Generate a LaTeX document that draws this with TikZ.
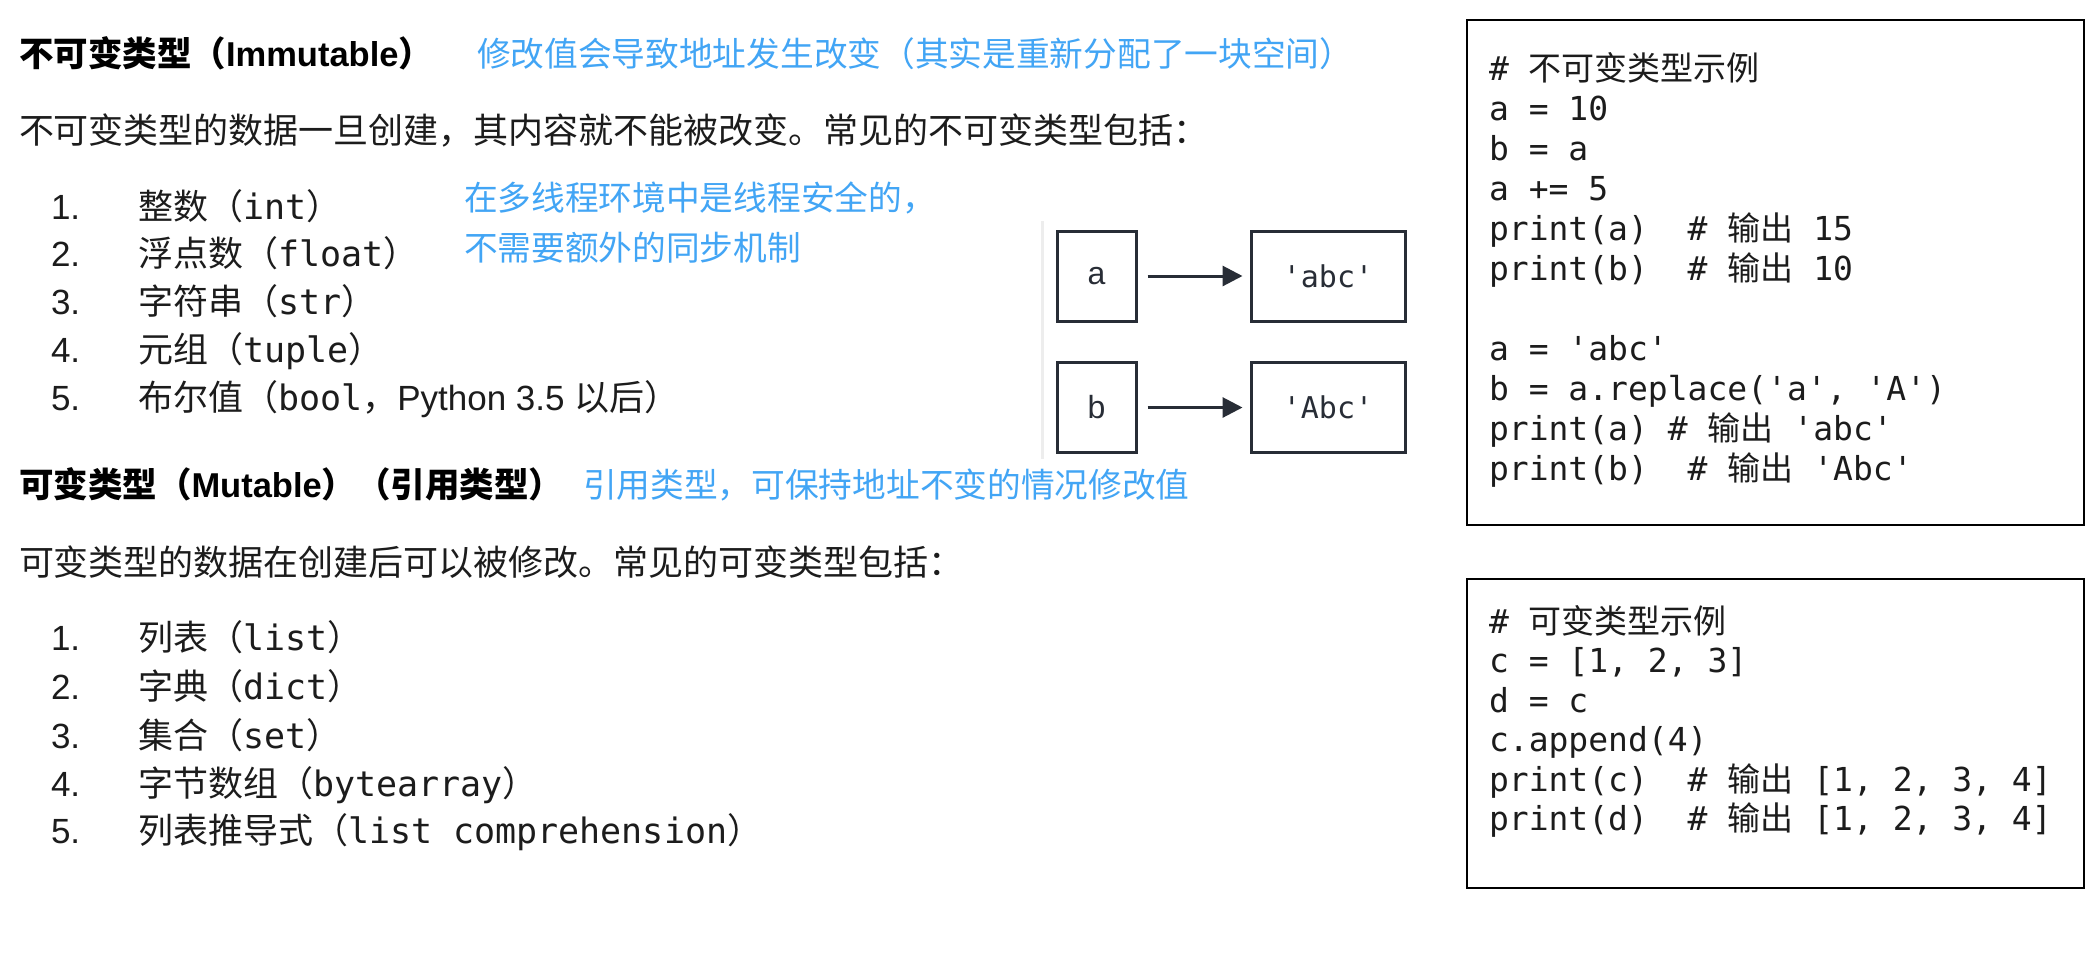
\documentclass[tikz,border=0pt]{standalone}
\usepackage{fontspec}
\usetikzlibrary{arrows.meta}
\setmainfont{Liberation Sans}
\setmonofont{DejaVu Sans Mono}
\newfontfamily\zhfont{Noto Sans CJK SC}
\newcommand\zh[1]{{\zhfont #1}}
\definecolor{notecol}{RGB}{66,165,245}
\definecolor{inkcol}{RGB}{28,28,28}
\definecolor{diagcol}{RGB}{40,45,54}
\tikzset{
  txt/.style={anchor=base west, inner sep=0pt, outer sep=0pt, text=inkcol, font=\fontsize{35}{40}\selectfont},
  head/.style={txt, text=black, font=\fontsize{34.5}{40}\selectfont\bfseries},
  note/.style={txt, text=notecol, font=\fontsize{33.7}{40}\selectfont},
  code/.style={txt, font=\fontsize{33}{40}\selectfont\ttfamily},
  codebox/.style={draw=black, line width=2pt},
  vbox/.style={draw=diagcol, line width=3pt, minimum width=79pt, minimum height=90pt, inner sep=0pt, text=diagcol, font=\fontsize{32}{36}\selectfont},
  arr/.style={draw=diagcol, line width=3pt, -{Triangle[length=20pt,width=20pt]}, shorten <=10pt, shorten >=7pt}
}
\begin{document}
\begin{tikzpicture}[x=1pt,y=-1pt]
\useasboundingbox[fill=white] (0,0) rectangle (2098,956);

% ---------- immutable section ----------
\node[head] (h1) at (19,66) {\zh{\bfseries 不可变类型（}Immutable\zh{\bfseries ）}};
\node[note] (n1) at (477,66) {\zh{修改值会导致地址发生改变（其实是重新分配了一块空间）}};
\node[txt] (d1) at (19,143) {\zh{不可变类型的数据一旦创建，其内容就不能被改变。常见的不可变类型包括：}};

\node[txt] (i1n) at (51,219) {1.};
\node[txt] (i1) at (138,219) {\zh{整数（}\texttt{int}\zh{）}};
\node[txt] (i2n) at (51,266) {2.};
\node[txt] (i2) at (138,266) {\zh{浮点数（}\texttt{float}\zh{）}};
\node[txt] (i3n) at (51,314) {3.};
\node[txt] (i3) at (138,314) {\zh{字符串（}\texttt{str}\zh{）}};
\node[txt] (i4n) at (51,362) {4.};
\node[txt] (i4) at (138,362) {\zh{元组（}\texttt{tuple}\zh{）}};
\node[txt] (i5n) at (51,410) {5.};
\node[txt] (i5) at (138,410) {\zh{布尔值（}\texttt{bool}\zh{，}Python 3.5 \zh{以后）}};

\node[note] (n2a) at (464,210) {\zh{在多线程环境中是线程安全的，}};
\node[note] (n2b) at (464,260) {\zh{不需要额外的同步机制}};

% ---------- mutable section ----------
\node[head] (h2) at (19,497) {\zh{\bfseries 可变类型（}Mutable\zh{\bfseries ）（引用类型）}};
\node[note] (n3) at (583,497) {\zh{引用类型，可保持地址不变的情况修改值}};
\node[txt] (d2) at (19,575) {\zh{可变类型的数据在创建后可以被修改。常见的可变类型包括：}};

\node[txt] (j1n) at (51,650) {1.};
\node[txt] (j1) at (138,650) {\zh{列表（}\texttt{list}\zh{）}};
\node[txt] (j2n) at (51,699) {2.};
\node[txt] (j2) at (138,699) {\zh{字典（}\texttt{dict}\zh{）}};
\node[txt] (j3n) at (51,748) {3.};
\node[txt] (j3) at (138,748) {\zh{集合（}\texttt{set}\zh{）}};
\node[txt] (j4n) at (51,796) {4.};
\node[txt] (j4) at (138,796) {\zh{字节数组（}\texttt{bytearray}\zh{）}};
\node[txt] (j5n) at (51,843) {5.};
\node[txt] (j5) at (138,843) {\zh{列表推导式（}\texttt{list comprehension}\zh{）}};

% ---------- reference diagram ----------
\draw[black!7, line width=3pt] (1042,221) -- (1042,459);
\node[vbox] (va) at (1096.5,276) {a};
\node[vbox, minimum width=154pt, font=\fontsize{30}{34}\selectfont\ttfamily] (sabc) at (1328,276) {'abc'};
\node[vbox] (vb) at (1096.5,407.5) {b};
\node[vbox, minimum width=154pt, font=\fontsize{30}{34}\selectfont\ttfamily] (sAbc) at (1328,407.5) {'Abc'};
\draw[arr] (va) -- (sabc);
\draw[arr] (vb) -- (sAbc);

% ---------- code box 1 ----------
\node[codebox, minimum width=617pt, minimum height=505pt, anchor=north west, inner sep=0pt] (cb1) at (1466,19) {};
\node[code] (c1) at (1489,80) {\# \zh{不可变类型示例}};
\node[code] (c2) at (1489,120) {a = 10};
\node[code] (c3) at (1489,160) {b = a};
\node[code] (c4) at (1489,200) {a += 5};
\node[code] (c5) at (1489,240) {print(a)\ \ \# \zh{输出} 15};
\node[code] (c6) at (1489,280) {print(b)\ \ \# \zh{输出} 10};
\node[code] (c7) at (1489,360) {a = 'abc'};
\node[code] (c8) at (1489,400) {b = a.replace('a', 'A')};
\node[code] (c9) at (1489,440) {print(a) \# \zh{输出} 'abc'};
\node[code] (c10) at (1489,480) {print(b)\ \ \# \zh{输出} 'Abc'};

% ---------- code box 2 ----------
\node[codebox, minimum width=617pt, minimum height=309pt, anchor=north west, inner sep=0pt] (cb2) at (1466,578) {};
\node[code] (e1) at (1489,633) {\# \zh{可变类型示例}};
\node[code] (e2) at (1489,672.5) {c = [1, 2, 3]};
\node[code] (e3) at (1489,712) {d = c};
\node[code] (e4) at (1489,751.5) {c.append(4)};
\node[code] (e5) at (1489,791) {print(c)\ \ \# \zh{输出} [1, 2, 3, 4]};
\node[code] (e6) at (1489,830.5) {print(d)\ \ \# \zh{输出} [1, 2, 3, 4]};
\end{tikzpicture}
\end{document}
